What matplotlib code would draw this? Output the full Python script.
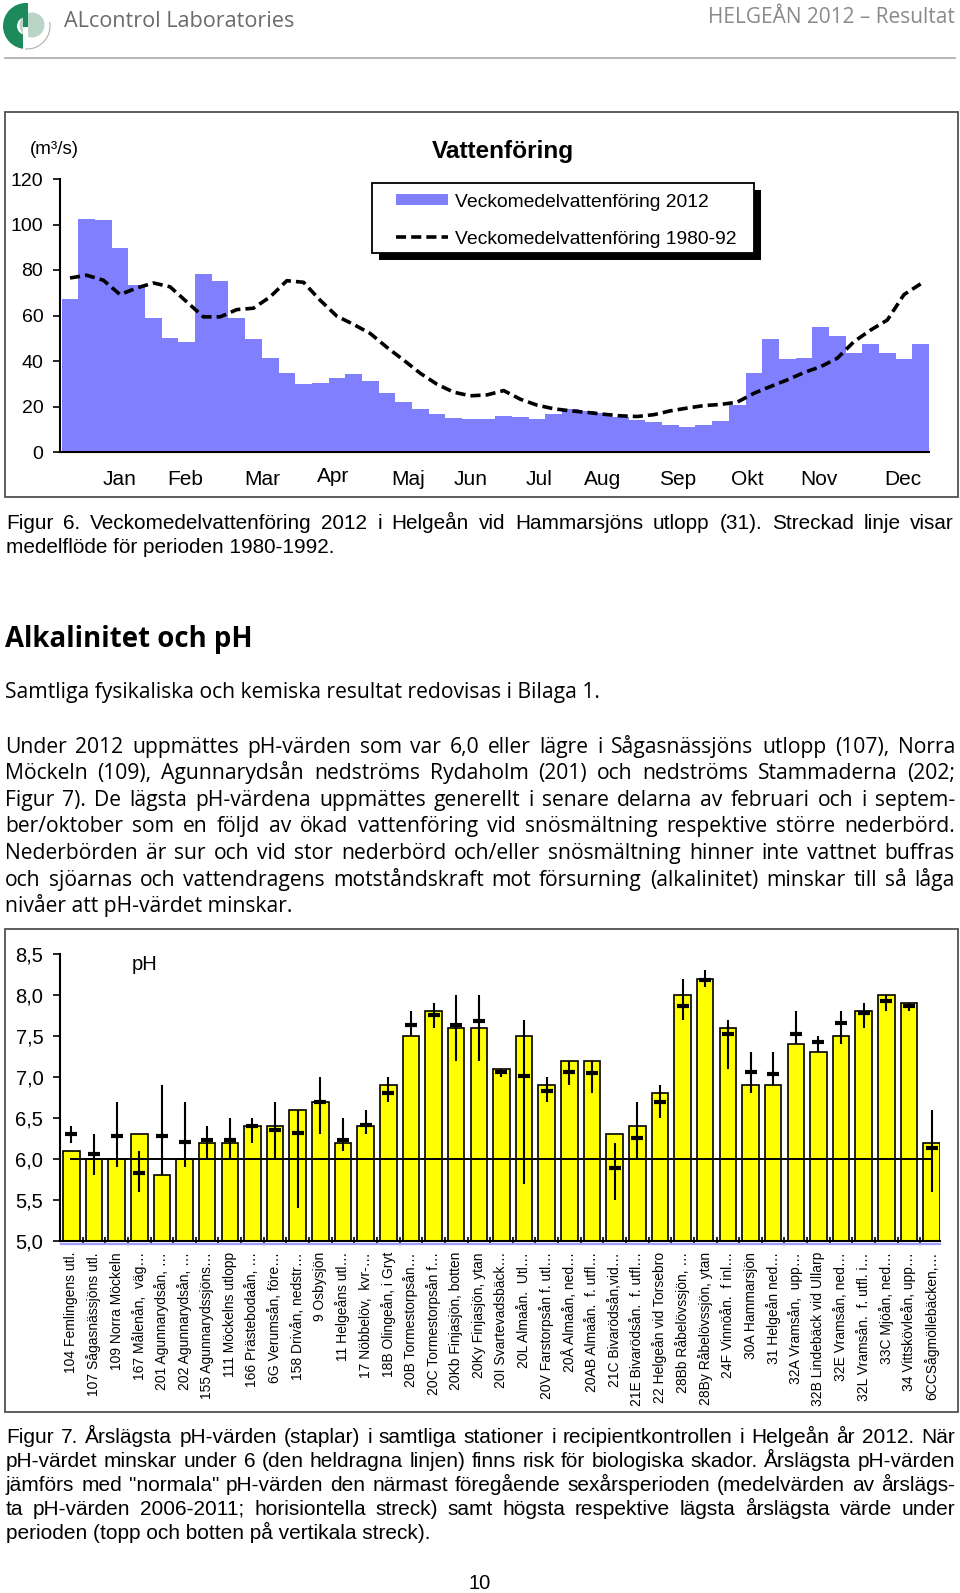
import matplotlib
matplotlib.use("Agg")
import matplotlib.pyplot as plt
from matplotlib.patches import Rectangle, Wedge, Circle, Arc
from matplotlib.lines import Line2D
import matplotlib.transforms as mtransforms

# ---------------- data ----------------
weeks = list(range(1, 53))
flow_2012 = [67.3, 102.5, 101.9, 89.6, 73.4, 59.1, 50.2, 48.5, 78.1, 75.3,
             59.0, 49.6, 41.5, 34.7, 30.1, 30.5, 32.7, 34.2, 31.2, 25.8,
             21.8, 19.1, 16.9, 15.0, 14.3, 14.4, 15.9, 15.3, 14.4, 16.6,
             19.0, 18.1, 17.1, 15.5, 13.9, 13.0, 12.0, 11.2, 11.8, 13.7,
             20.7, 34.6, 49.6, 41.0, 41.5, 54.9, 50.9, 43.6, 47.6, 43.5,
             40.9, 47.6]
flow_1980_92 = [76.5, 77.7, 75.5, 69.2, 72.1, 74.3, 72.6, 66.0, 59.4, 59.4,
                62.6, 63.2, 68.2, 75.3, 74.6, 66.7, 59.7, 56.1, 52.1, 46.0,
                40.4, 34.6, 29.8, 26.3, 24.7, 25.1, 27.0, 23.2, 20.6, 19.0,
                18.1, 17.4, 16.6, 15.9, 15.6, 16.4, 18.1, 19.3, 20.4, 20.9,
                21.9, 25.8, 28.8, 31.7, 34.9, 37.5, 41.2, 48.5, 53.6, 58.0,
                69.2, 73.9]
month_labels = ["Jan", "Feb", "Mar", "Apr", "Maj", "Jun", "Jul", "Aug",
                "Sep", "Okt", "Nov", "Dec"]
month_pos = [4.0, 7.9, 12.5, 16.8, 21.3, 25.0, 29.1, 32.9, 37.4, 41.6, 45.9, 50.9]
flow_ticks = [0, 20, 40, 60, 80, 100, 120]
legend_labels = ["Veckomedelvattenföring 2012", "Veckomedelvattenföring 1980-92"]

stations = ["104 Femlingens utl.", "107 Sågasnässjöns utl.", "109 Norra Möckeln",
            "167 Målenån,  väg…", "201 Agunnarydsån, …", "202 Agunnarydsån, …",
            "155 Agunnarydssjöns…", "111 Möckelns utlopp", "166 Prästebodaån, …",
            "6G Verumsån, före…", "158 Drivån, nedstr…", "9 Osbysjön",
            "11 Helgeåns utl…", "17 Nöbbelöv,  kvr-…", "18B Olingeån, i Gryt",
            "20B Tormestorpsån…", "20C Tormestorpsån f…", "20Kb Finjasjön, botten",
            "20Ky Finjasjön, ytan", "20I Svartevadsbäck…", "20L Almaån.  Utl…",
            "20V Farstorpsån f. utl…", "20Å Almaån, ned…", "20AB Almaån.  f. utfl…",
            "21C Bivarödsån,vid…", "21E Bivarödsån.  f. utfl…", "22 Helgeån vid Torsebro",
            "28Bb Råbelövssjön, …", "28By Råbelövssjön, ytan", "24F Vinnöån.  f inl…",
            "30A Hammarsjön", "31 Helgeån ned…", "32A Vramsån,  upp…",
            "32B Lindebäck vid Ullarp", "32E Vramsån, ned…", "32L Vramsån.  f. utfl. i…",
            "33C Mjöån, ned…", "34 Vittskövleån, upp…", "6CCSågmöllebäcken,…"]
ph_2012 = [6.1, 6.0, 6.0, 6.3, 5.8, 6.0, 6.2, 6.2, 6.4, 6.4, 6.6, 6.7, 6.2,
           6.4, 6.9, 7.5, 7.8, 7.6, 7.6, 7.1, 7.5, 6.9, 7.2, 7.2, 6.3, 6.4,
           6.8, 8.0, 8.2, 7.6, 6.9, 6.9, 7.4, 7.3, 7.5, 7.8, 8.0, 7.9, 6.2]
ph_mean_2006_2011 = [6.30, 6.06, 6.28, 5.83, 6.28, 6.21, 6.23, 6.23, 6.40, 6.35,
                     6.32, 6.70, 6.23, 6.42, 6.80, 7.63, 7.76, 7.63, 7.68, 7.06,
                     7.01, 6.83, 7.06, 7.05, 5.89, 6.26, 6.70, 7.87, 8.18, 7.53,
                     7.06, 7.04, 7.53, 7.43, 7.66, 7.78, 7.93, 7.87, 6.13]
ph_max_2006_2011 = [6.4, 6.3, 6.7, 6.1, 6.9, 6.7, 6.4, 6.5, 6.5, 6.7, 6.6, 7.0,
                    6.5, 6.6, 7.0, 7.8, 7.9, 8.0, 8.0, 7.1, 7.7, 7.0, 7.2, 7.2,
                    6.2, 6.7, 6.9, 8.2, 8.3, 7.7, 7.3, 7.3, 7.8, 7.5, 7.8, 7.9,
                    8.0, 7.9, 6.6]
ph_min_2006_2011 = [6.2, 5.8, 5.9, 5.6, 5.8, 5.9, 6.0, 6.0, 6.2, 6.0, 5.4, 6.3,
                    6.1, 6.3, 6.7, 7.5, 7.6, 7.2, 7.2, 7.0, 5.7, 6.7, 6.9, 6.8,
                    5.5, 6.0, 6.5, 7.7, 8.1, 7.1, 6.8, 6.9, 7.4, 7.3, 7.4, 7.6,
                    7.8, 7.8, 5.6]
ph_ticks = [5.0, 5.5, 6.0, 6.5, 7.0, 7.5, 8.0, 8.5]
ph_limit = 6.0

# ---------------- texts ----------------
header_left = "ALcontrol Laboratories"
header_right = "HELGEÅN 2012 – Resultat"
fig6_caption = ["Figur 6. Veckomedelvattenföring 2012 i Helgeån vid Hammarsjöns utlopp (31). Streckad linje visar",
                "medelflöde för perioden 1980-1992."]
heading = "Alkalinitet och pH"
intro = "Samtliga fysikaliska och kemiska resultat redovisas i Bilaga 1."
paragraph = ["Under 2012 uppmättes pH-värden som var 6,0 eller lägre i Sågasnässjöns utlopp (107), Norra",
             "Möckeln (109), Agunnarydsån nedströms Rydaholm (201) och nedströms Stammaderna (202;",
             "Figur 7). De lägsta pH-värdena uppmättes generellt i senare delarna av februari och i septem-",
             "ber/oktober som en följd av ökad vattenföring vid snösmältning respektive större nederbörd.",
             "Nederbörden är sur och vid stor nederbörd och/eller snösmältning hinner inte vattnet buffras",
             "och sjöarnas och vattendragens motståndskraft mot försurning (alkalinitet) minskar till så låga",
             "nivåer att pH-värdet minskar."]
fig7_caption = ["Figur 7. Årslägsta pH-värden (staplar) i samtliga stationer i recipientkontrollen i Helgeån år 2012. När",
                "pH-värdet minskar under 6 (den heldragna linjen) finns risk för biologiska skador. Årslägsta pH-värden",
                "jämförs med \"normala\" pH-värden den närmast föregående sexårsperioden (medelvärden av årslägs-",
                "ta pH-värden 2006-2011; horisiontella streck) samt högsta respektive lägsta årslägsta värde under",
                "perioden (topp och botten på vertikala streck)."]
page_number = "10"

# ---------------- setup ----------------
W, H = 960, 1593
fig = plt.figure(figsize=(W / 100, H / 100), dpi=100)
renderer = fig.canvas.get_renderer()
SANS = ["Liberation Sans", "DejaVu Sans"]
BODY = ["Open Sans", "DejaVu Sans"]
BLUE = "#8080ff"
YELLOW = "#ffff00"


def fx(px):
    return px / W


def fy(py):
    return 1 - py / H


def add_text(x, y, s, size, family, **kw):
    # y is the visual middle of the line; place on a shared baseline
    base = y + 0.365 * size * 100 / 72
    return fig.text(fx(x), fy(base), s, fontsize=size, family=family, va="baseline", **kw)


def width_of(t):
    return t.get_window_extent(renderer).width


def fitted_size(s, family, target, weight="normal", base=20.0):
    t = fig.text(0, 0, s, fontsize=base, family=family, weight=weight)
    w = width_of(t)
    t.remove()
    return base * target / w


def justified(s, y, size, family, x0=6, x1=954, **kw):
    words = s.split(" ")
    arts = [add_text(x0, y, w, size, family, **kw) for w in words]
    widths = [width_of(a) for a in arts]
    gap = (x1 - x0 - sum(widths)) / (len(words) - 1)
    x = x0
    for a, w in zip(arts, widths):
        a.set_x(fx(x))
        x += w + gap


# ---------------- header ----------------
lax = fig.add_axes([0, fy(52), 52 / W, 52 / H])
lax.set_xlim(0, 52)
lax.set_ylim(52, 0)
lax.axis("off")
lax.add_patch(Circle((32, 25), 12.5, fc="#b9d5c6", ec="none"))
lax.add_patch(Wedge((26, 26), 23, 92, 268, width=14, fc="#1d8a5c", ec="none"))
lax.add_patch(Rectangle((23, 3), 5, 24, fc="#1d8a5c", ec="none"))
lax.add_patch(Rectangle((23, 27), 5, 24, fc="white", ec="none"))
lax.add_patch(Arc((27, 26), 46, 46, theta1=-10, theta2=95, color="#b0b0b0", lw=0.8))

s = fitted_size(header_left, BODY, 230)
add_text(64, 19, header_left, s, BODY, color="#6b6b6b")
s = fitted_size(header_right, BODY, 247)
add_text(955, 15, header_right, s, BODY, color="#8a8a8a", ha="right")
fig.add_artist(Line2D([fx(5), fx(955)], [fy(58), fy(58)], color="#a8a8a8", lw=1.2))

# ---------------- chart 1: Vattenföring ----------------
fig.add_artist(Rectangle((fx(5), fy(497)), 953 / W, 385 / H, transform=fig.transFigure,
                         fill=False, ec="#505050", lw=1.3))
ax1 = fig.add_axes([fx(60), fy(452), 869 / W, 273 / H])
ax1.bar(weeks, flow_2012, width=1.0, color=BLUE, linewidth=0, zorder=2)
ax1.plot(weeks, flow_1980_92, color="black", lw=2.6, dashes=(2.8, 1.4), zorder=3)
ax1.set_xlim(0.4, 52.5)
ax1.set_ylim(0, 120)
ax1.set_yticks(flow_ticks)
ax1.set_yticklabels([str(v) for v in flow_ticks], fontsize=14, family=SANS)
ax1.set_xticks(month_pos)
ax1.set_xticklabels(month_labels, fontsize=15, family=SANS)
ax1.tick_params(axis="x", length=0, pad=13)
ax1.tick_params(axis="y", length=5, width=1.2, pad=7, direction="out")
for sp in ["top", "right"]:
    ax1.spines[sp].set_visible(False)
for sp in ["left", "bottom"]:
    ax1.spines[sp].set_linewidth(1.5)
for lab in ax1.get_xticklabels():
    if lab.get_text() == "Apr":
        lab.set_transform(lab.get_transform() +
                          mtransforms.ScaledTranslation(0, 3 / 100, fig.dpi_scale_trans))

add_text(503, 149, "Vattenföring", 17.6, SANS, weight="bold", ha="center")
add_text(30, 147, "(m³/s)", 13.5, SANS)

# legend (drawn by hand to reproduce the heavy shadow)
fig.add_artist(Rectangle((fx(379), fy(260)), 382 / W, 70 / H, transform=fig.transFigure,
                         fc="black", ec="none"))
fig.add_artist(Rectangle((fx(372), fy(253)), 382 / W, 70 / H, transform=fig.transFigure,
                         fc="white", ec="black", lw=1.3))
fig.add_artist(Rectangle((fx(396), fy(205)), 52 / W, 11 / H, transform=fig.transFigure,
                         fc=BLUE, ec="none"))
fig.add_artist(Line2D([fx(396), fx(448)], [fy(237), fy(237)], color="black", lw=2.6,
                      dashes=(2.8, 1.4)))
add_text(455, 200, legend_labels[0], 13.9, SANS)
add_text(455, 237, legend_labels[1], 13.9, SANS)

# ---------------- texts between charts ----------------
cap_size = fitted_size(fig6_caption[1], SANS, 328)
justified(fig6_caption[0], 521, cap_size, SANS)
add_text(6, 545, fig6_caption[1], cap_size, SANS)

hs = fitted_size(heading, BODY, 247, weight="bold")
add_text(5, 637, heading, hs, BODY, weight="bold")

bs = fitted_size(intro, BODY, 593)
add_text(5, 690, intro, bs, BODY)
for i, line in enumerate(paragraph):
    y = 745 + 26.6 * i
    if i < len(paragraph) - 1:
        justified(line, y, bs, BODY, x0=5, x1=955)
    else:
        add_text(5, y, line, bs, BODY)

# ---------------- chart 2: pH ----------------
fig.add_artist(Rectangle((fx(5), fy(1412)), 953 / W, 483 / H, transform=fig.transFigure,
                         fill=False, ec="#505050", lw=1.3))
ax2 = fig.add_axes([fx(60), fy(1241), 880 / W, 287 / H])
xs = list(range(len(stations)))
ax2.bar(xs, ph_2012, width=0.73, color=YELLOW, edgecolor="black", linewidth=1.2, zorder=2)
ax2.plot([xs[0], xs[-1]], [ph_limit, ph_limit], color="black", lw=1.4, zorder=3)
ax2.vlines(xs, ph_min_2006_2011, ph_max_2006_2011, color="black", lw=1.5, zorder=4)
ax2.plot(xs, ph_mean_2006_2011, ls="none", marker="_", ms=8, mew=3, color="black", zorder=5)
ax2.set_xlim(-0.5, 38.37)
ax2.set_ylim(5.0, 8.5)
ax2.set_yticks(ph_ticks)
ax2.set_yticklabels([f"{v:.1f}".replace(".", ",") for v in ph_ticks], fontsize=14.5, family=SANS)
ax2.set_xticks(xs)
ax2.set_xticklabels(stations, rotation=90, fontsize=10, family=SANS, va="top", ha="center")
ax2.set_xticks([x + 0.5 for x in xs[:-1]], minor=True)
ax2.tick_params(axis="x", which="major", length=0, pad=8)
ax2.tick_params(axis="x", which="minor", length=6, width=1.2, direction="inout")
ax2.tick_params(axis="y", length=5, width=1.2, pad=7, direction="out")
for sp in ["top", "right"]:
    ax2.spines[sp].set_visible(False)
for sp in ["left", "bottom"]:
    ax2.spines[sp].set_linewidth(1.5)
fig.add_artist(Line2D([fx(61), fx(940)], [fy(1243.5), fy(1243.5)], color="#a0a0ff", lw=1.6))
add_text(145, 963, "pH", 14.5, SANS, ha="center")

# ---------------- caption figure 7 ----------------
cap7 = fitted_size(fig7_caption[-1], SANS, 425)
for i, line in enumerate(fig7_caption):
    y = 1435 + 24 * i
    if i < len(fig7_caption) - 1:
        justified(line, y, cap7, SANS, x0=6, x1=955)
    else:
        add_text(6, y, line, cap7, SANS)

add_text(480, 1582, page_number, 14.5, SANS, ha="center")

fig.savefig("out.png", dpi=100, facecolor="white")
